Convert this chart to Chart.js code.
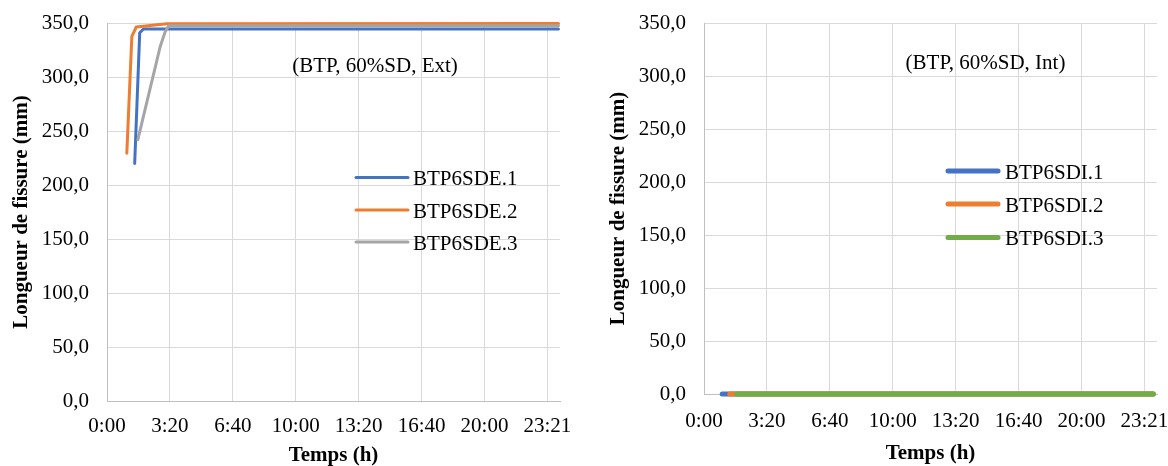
<!DOCTYPE html>
<html lang="fr">
<head>
<meta charset="utf-8">
<title>Longueur de fissure – BTP 60%SD</title>
<script src="https://cdn.jsdelivr.net/npm/chart.js@4/dist/chart.umd.min.js"></script>
<style>
  html, body { margin: 0; padding: 0; background: #ffffff; overflow: hidden; }
  body { width: 1168px; height: 466px; position: relative; }
  canvas { position: absolute; top: 0; }
  #extChart { left: 0; }
  #intChart { left: 580px; }
</style>
</head>
<body>
<canvas id="extChart" width="580" height="466"></canvas>
<canvas id="intChart" width="600" height="466"></canvas>
<script>
// Time axis (minutes since start) and its labels
const timeTicks = [0, 200, 400, 600, 800, 1000, 1200, 1400];
const timeTickLabels = ['0:00', '3:20', '6:40', '10:00', '13:20', '16:40', '20:00', '23:21'];
const timeMax = 1440;
const lengthMax = 350;
const lengthStep = 50;

// Face extérieure (Ext): crack length (mm) vs time (min)
const sde1Time = [88, 104, 116, 1435];
const sde1Len  = [220, 341, 344.4, 344.4];
const sde2Time = [63, 79, 93, 190, 1435];
const sde2Len  = [229.5, 337.6, 346.3, 349.4, 349.5];
const sde3Time = [98, 169, 185, 196, 1435];
const sde3Len  = [242, 328, 342, 347.5, 347.5];

// Face intérieure (Int): no crack growth
const sdi1Time = [58, 1428];
const sdi1Len  = [0, 0];
const sdi2Time = [82, 1428];
const sdi2Len  = [0, 0];
const sdi3Time = [104, 1428];
const sdi3Len  = [0, 0];

const SERIF = "'Liberation Serif', 'Times New Roman', Times, serif";
const BLUE = '#4472C4', ORANGE = '#ED7D31', GREY = '#A5A5A5', GREEN = '#70AD47';

function points(xs, ys) {
  return xs.map((x, i) => ({ x: x, y: ys[i] }));
}

function series(label, xs, ys, color, width, order) {
  return {
    label: label,
    data: points(xs, ys),
    borderColor: color,
    backgroundColor: color,
    borderWidth: width,
    borderCapStyle: 'round',
    borderJoinStyle: 'round',
    pointRadius: 0,
    tension: 0,
    fill: false,
    clip: 6,
    order: order
  };
}

// Draws the in-plot legend and the panel caption
const panelDecor = {
  id: 'panelDecor',
  afterDatasetsDraw(chart, args, opts) {
    const ctx = chart.ctx;
    ctx.save();
    ctx.font = '21px ' + SERIF;
    ctx.fillStyle = '#000';
    ctx.textBaseline = 'alphabetic';
    // caption
    ctx.textAlign = 'center';
    ctx.fillText(opts.caption, opts.captionX, opts.captionY);
    // legend
    ctx.textAlign = 'left';
    chart.data.datasets.forEach((ds, i) => {
      const y = opts.legendY[i];
      ctx.beginPath();
      ctx.strokeStyle = ds.borderColor;
      ctx.lineWidth = opts.legendLineWidth;
      ctx.lineCap = 'round';
      ctx.moveTo(opts.legendX0, y);
      ctx.lineTo(opts.legendX1, y);
      ctx.stroke();
      ctx.fillText(ds.label, opts.legendTextX, y + 7.5);
    });
    ctx.restore();
  }
};

function buildOptions(cfg) {
  return {
    responsive: false,
    animation: false,
    devicePixelRatio: 1,
    layout: { autoPadding: false, padding: { left: 0, top: cfg.padTop, right: cfg.padRight, bottom: 0 } },
    plugins: {
      legend: { display: false },
      tooltip: { enabled: false },
      panelDecor: cfg.decor
    },
    scales: {
      x: {
        type: 'linear',
        min: 0,
        max: timeMax,
        afterBuildTicks: s => { s.ticks = timeTicks.map(v => ({ value: v })); },
        afterFit: s => { s.height = cfg.xHeight; s.paddingLeft = 0; s.paddingRight = 0; },
        ticks: {
          autoSkip: false,
          maxRotation: 0,
          padding: cfg.xTickPad,
          color: '#000',
          font: { family: SERIF, size: 21 },
          callback: (v, i) => timeTickLabels[i]
        },
        grid: { color: '#D9D9D9', lineWidth: 1, drawTicks: false },
        border: { color: '#BFBFBF', width: 1 },
        title: {
          display: true,
          text: 'Temps (h)',
          color: '#000',
          font: { family: SERIF, size: 21, weight: 'bold' },
          padding: { top: 0, bottom: cfg.xTitlePad }
        }
      },
      y: {
        min: 0,
        max: lengthMax,
        afterFit: s => { s.width = cfg.yWidth; s.paddingTop = 0; s.paddingBottom = 0; },
        ticks: {
          stepSize: lengthStep,
          padding: 18,
          color: '#000',
          font: { family: SERIF, size: 21 },
          callback: v => v.toFixed(1).replace('.', ',')
        },
        grid: { color: '#D9D9D9', lineWidth: 1, drawTicks: false },
        border: { color: '#BFBFBF', width: 1 },
        title: {
          display: true,
          text: 'Longueur de fissure (mm)',
          color: '#000',
          font: { family: SERIF, size: 21, weight: 'bold' },
          padding: { top: cfg.yTitlePad, bottom: 0 }
        }
      }
    }
  };
}

new Chart(document.getElementById('extChart'), {
  type: 'line',
  data: {
    datasets: [
      series('BTP6SDE.1', sde1Time, sde1Len, BLUE, 3, 3),
      series('BTP6SDE.2', sde2Time, sde2Len, ORANGE, 3, 2),
      series('BTP6SDE.3', sde3Time, sde3Len, GREY, 3, 1)
    ]
  },
  options: buildOptions({
    padTop: 23, padRight: 20, xHeight: 65, yWidth: 107, xTickPad: 13, xTitlePad: -2, yTitlePad: 9,
    decor: {
      caption: '(BTP, 60%SD, Ext)', captionX: 375, captionY: 71.5,
      legendX0: 356, legendX1: 408, legendTextX: 413, legendLineWidth: 3,
      legendY: [177.5, 210, 242]
    }
  }),
  plugins: [panelDecor]
});

new Chart(document.getElementById('intChart'), {
  type: 'line',
  data: {
    datasets: [
      series('BTP6SDI.1', sdi1Time, sdi1Len, BLUE, 5, 3),
      series('BTP6SDI.2', sdi2Time, sdi2Len, ORANGE, 5, 2),
      series('BTP6SDI.3', sdi3Time, sdi3Len, GREEN, 5, 1)
    ]
  },
  options: buildOptions({
    padTop: 23, padRight: 23, xHeight: 72, yWidth: 124, xTickPad: 15, xTitlePad: 0, yTitlePad: 26,
    decor: {
      caption: '(BTP, 60%SD, Int)', captionX: 405.5, captionY: 68.5,
      legendX0: 368, legendX1: 418, legendTextX: 425, legendLineWidth: 5,
      legendY: [171, 204, 237.5]
    }
  }),
  plugins: [panelDecor]
});
</script>
</body>
</html>
